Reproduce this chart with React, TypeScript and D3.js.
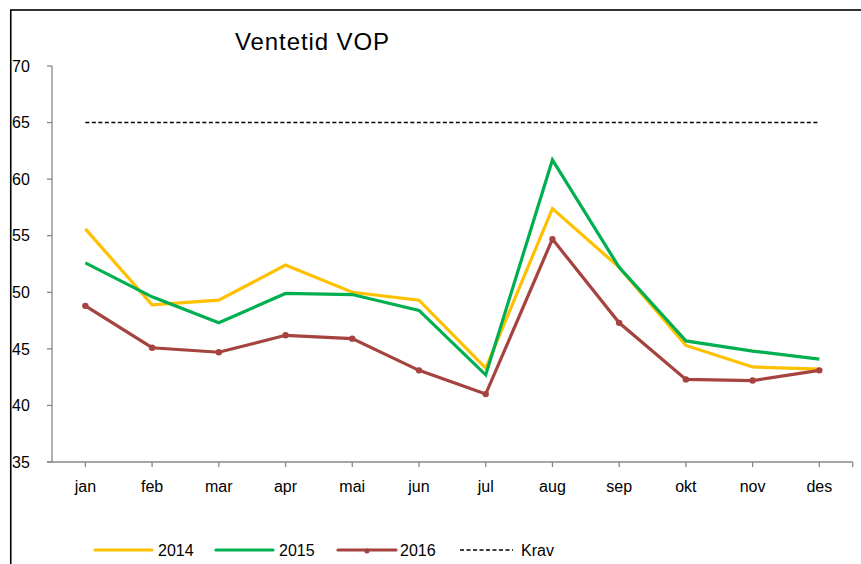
import React from "react";
import * as d3 from "d3";

const months = ["jan", "feb", "mar", "apr", "mai", "jun", "jul", "aug", "sep", "okt", "nov", "des"];
const v2014 = [55.6, 48.9, 49.3, 52.4, 50.0, 49.3, 43.3, 57.4, 52.2, 45.3, 43.4, 43.2];
const v2015 = [52.6, 49.6, 47.3, 49.9, 49.8, 48.4, 42.7, 61.7, 52.2, 45.7, 44.8, 44.1];
const v2016 = [48.8, 45.1, 44.7, 46.2, 45.9, 43.1, 41.0, 54.7, 47.3, 42.3, 42.2, 43.1];
const krav = 65;
const yTicks = [35, 40, 45, 50, 55, 60, 65, 70];

const FONT = "'Liberation Sans', Arial, sans-serif";

export default function App() {
  const x = d3.scaleBand<string>().domain(months).range([52, 852.7]).padding(0);
  const cx = (m: string) => (x(m) as number) + x.bandwidth() / 2;
  const y = d3.scaleLinear().domain([35, 70]).range([462, 66]);

  const line = d3
    .line<number>()
    .x((_, i) => cx(months[i]))
    .y((d) => y(d));

  const series = [
    { name: "2014", values: v2014, color: "#FFC000", marker: false },
    { name: "2015", values: v2015, color: "#00B050", marker: false },
    { name: "2016", values: v2016, color: "#A5433F", marker: true },
  ];

  const legendItems = [
    { name: "2014", color: "#FFC000", x1: 95, x2: 152, tx: 158 },
    { name: "2015", color: "#00B050", x1: 216, x2: 273, tx: 279 },
    { name: "2016", color: "#A5433F", x1: 338, x2: 396, tx: 400 },
  ];

  return (
    <svg
      width={861}
      height={564}
      style={{ position: "absolute", left: 0, top: 0, background: "#fff" }}
      fontFamily={FONT}
    >
      <rect x={0} y={0} width={861} height={564} fill="#fff" />
      <rect x={10.75} y={10} width={900} height={600} fill="none" stroke="#000" strokeWidth={1.6} />

      <text x={235} y={50} fontSize={24} letterSpacing={0.9} fill="#000">
        Ventetid VOP
      </text>

      {/* Y axis */}
      <line x1={52} x2={52} y1={y(70)} y2={y(35)} stroke="#888" strokeWidth={1.3} />
      {yTicks.map((t) => (
        <g key={t}>
          <line x1={47} x2={52} y1={y(t)} y2={y(t)} stroke="#888" strokeWidth={1.3} />
          <text x={12} y={y(t)} dy="0.36em" fontSize={16} fill="#000">
            {t}
          </text>
        </g>
      ))}

      {/* X axis */}
      <line x1={47} x2={852.7} y1={462} y2={462} stroke="#888" strokeWidth={1.3} />
      {months.map((m) => (
        <g key={m}>
          <line x1={cx(m)} x2={cx(m)} y1={462} y2={467} stroke="#888" strokeWidth={1.3} />
          <text x={cx(m)} y={492} textAnchor="middle" fontSize={16} fill="#000">
            {m}
          </text>
        </g>
      ))}
      <line x1={852.7} x2={852.7} y1={462} y2={467} stroke="#888" strokeWidth={1.3} />

      {/* Krav */}
      <line
        x1={cx(months[0])}
        x2={cx(months[months.length - 1])}
        y1={y(krav)}
        y2={y(krav)}
        stroke="#000"
        strokeWidth={1.5}
        strokeDasharray="4,2.5"
      />

      {series.map((s) => (
        <g key={s.name}>
          <path
            d={line(s.values) as string}
            fill="none"
            stroke={s.color}
            strokeWidth={3.2}
            strokeLinejoin="miter"
            strokeLinecap="butt"
          />
          {s.marker &&
            s.values.map((v, i) => (
              <circle key={i} cx={cx(months[i])} cy={y(v)} r={3.2} fill={s.color} />
            ))}
        </g>
      ))}

      {/* Legend */}
      {legendItems.map((l) => (
        <g key={l.name}>
          <line x1={l.x1} x2={l.x2} y1={550} y2={550} stroke={l.color} strokeWidth={3.2} strokeLinecap="round" />
          {l.name === "2016" && <circle cx={(l.x1 + l.x2) / 2} cy={551} r={2.5} fill={l.color} />}
          <text x={l.tx} y={556} fontSize={16} fill="#000">
            {l.name}
          </text>
        </g>
      ))}
      <line x1={460} x2={513} y1={550} y2={550} stroke="#000" strokeWidth={1.5} strokeDasharray="4,2.5" />
      <text x={521} y={556} fontSize={16} fill="#000">
        Krav
      </text>
    </svg>
  );
}
